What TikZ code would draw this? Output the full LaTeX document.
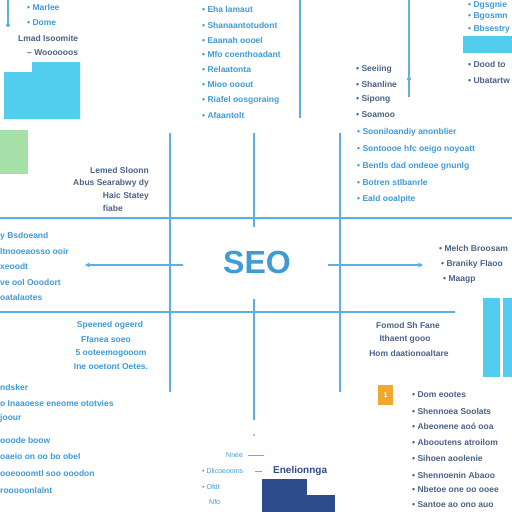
\documentclass[tikz,border=0pt]{standalone}
\usepackage{fontspec}
\setmainfont{Liberation Sans}
\usetikzlibrary{arrows.meta}
\definecolor{dk}{HTML}{4A6486}
\definecolor{bl}{HTML}{3F9BD6}
\definecolor{ln}{HTML}{5AB0E2}
\definecolor{cy}{HTML}{52CDEE}
\definecolor{gr}{HTML}{A6DFA8}
\definecolor{nv}{HTML}{2D4C8C}
\definecolor{og}{HTML}{F0A82E}
\tikzset{
  dktxt/.style={font=\bfseries\fontsize{8.5}{10}\selectfont, text=dk, inner sep=0pt},
  bltxt/.style={font=\bfseries\fontsize{8.5}{10}\selectfont, text=bl, inner sep=0pt},
  smtxt/.style={font=\fontsize{7}{8}\selectfont, text=bl, inner sep=0pt},
  gridline/.style={draw=ln, line width=1.1pt},
}
\begin{document}
\begin{tikzpicture}[x=1pt,y=-1pt]
\useasboundingbox (0,0) rectangle (512,512);
\fill[white] (0,0) rectangle (512,512);

% ---- top-left
\draw[gridline] (8,0) -- (8,25);
\fill[ln] (8,25) circle (2);
\node[bltxt, anchor=west] (tl1) at (27,7) {• Marlee};
\node[bltxt, anchor=west] (tl2) at (27,23) {• Dome};
\node[dktxt, anchor=west] (tl3) at (18,38) {Lmad Isoomite};
\node[dktxt, anchor=west] (tl4) at (27,53) {– Woooooos};
\fill[cy] (4,72) -- (32,72) -- (32,62) -- (80,62) -- (80,119) -- (4,119) -- cycle;

% ---- top-middle list
\foreach \y/\t [count=\i] in {9/Eha lamaut, 25/Shanaantotudont, 40/Eaanah oooel, 54/Mfo coenthoadant, 69/Relaatonta, 84/Mioo ooout, 100/Riafel oosgoraing, 115/Afaantolt}
  \node[bltxt, anchor=west] (tm\i) at (202,\y) {• \t};
\draw[gridline] (300,0) -- (300,118);

% ---- upper-right list
\foreach \y/\t [count=\i] in {69/Seeiing, 84/Shanline, 99/Sipong, 115/Soamoo}
  \node[dktxt, anchor=west] (ur\i) at (356,\y) {• \t};
\draw[gridline] (409,0) -- (409,97);
\fill[ln] (409,79) circle (2);

% ---- top-right
\node[bltxt, anchor=west] (tr1) at (468,5) {• Dgsgnie};
\node[bltxt, anchor=west] (tr2) at (468,16) {• Bgosmn};
\node[bltxt, anchor=west] (tr3) at (468,29) {• Bbsestry};
\fill[cy] (463,36) rectangle (512,53);
\node[dktxt, anchor=west] (tr4) at (468,64) {• Dood to};
\node[dktxt, anchor=west] (tr5) at (468,80) {• Ubatartw};

% ---- green block
\fill[gr] (0,130) rectangle (28,174);

% ---- left middle text
\node[dktxt, anchor=east] (lm1) at (149,170) {Lemed Sloonn};
\node[dktxt, anchor=east] (lm2) at (149,183) {Abus Searabwy dy};
\node[dktxt, anchor=east] (lm3) at (149,196) {Haic Statey};
\node[dktxt, anchor=east] (lm4) at (123,208) {fiabe};

% ---- right middle list
\foreach \y/\t [count=\i] in {132/Sooniloandiy anonblier, 149/Sontoooe hfc oeigo noyoatt, 166/Bentls dad ondeoe gnunlg, 182/Botren stlbanrle, 199/Eald ooalpite}
  \node[bltxt, anchor=west] (rm\i) at (357,\y) {• \t};

% ---- grid
\draw[gridline] (0,218) -- (512,218);
\draw[gridline] (0,312) -- (455,312);
\draw[gridline] (170,133) -- (170,392);
\draw[gridline] (340,133) -- (340,392);
\draw[gridline] (254,133) -- (254,227);
\draw[gridline] (254,299) -- (254,420);
\fill[ln] (254,435) circle (1);

% ---- center
\node[font=\bfseries\fontsize{32}{34}\selectfont, text=bl, inner sep=0pt] (seo) at (257,262) {SEO};
\coordinate (la) at (85,265);
\coordinate (ra) at (423,265);
\draw[gridline, -{Stealth[length=5pt,width=5pt]}] (183,265) -- (la);
\draw[gridline, -{Stealth[length=5pt,width=5pt]}] (328,265) -- (ra);

% ---- left list under line
\foreach \y/\t [count=\i] in {236/y Bsdoeand, 251/ltnooeaosso ooir, 266/xeoodt, 282/ve ool Ooodort, 297/oatalaotes}
  \node[bltxt, anchor=west] (ll\i) at (0,\y) {\t};

% ---- right arrow list
\node[dktxt, anchor=west] (ra1) at (439,248) {• Melch Broosam};
\node[dktxt, anchor=west] (ra2) at (441,264) {• Braniky Flaoo};
\node[dktxt, anchor=west] (ra3) at (443,279) {• Maagp};

% ---- lower left centred text
\node[bltxt] (lc1) at (110,325) {Speened ogeerd};
\node[bltxt] (lc2) at (106,339) {Ffanea soeo};
\node[bltxt] (lc3) at (111,353) {5 ooteemogooom};
\node[bltxt] (lc4) at (111,367) {Ine ooetont Oetes.};

% ---- lower right centred text
\node[dktxt] (rc1) at (408,325) {Fomod Sh Fane};
\node[dktxt] (rc2) at (405,339) {Ithaent gooo};
\node[dktxt] (rc3) at (409,353) {Hom daationoaltare};

% ---- right bars
\fill[cy] (483,298) rectangle (500,377);
\fill[cy] (503,298) rectangle (512,377);

% ---- bottom-left list
\foreach \y/\t [count=\i] in {387/ndsker, 403/o Inaaoese eneome ototvies, 418/joour, 440/ooode boow, 456/oaeio on oo bo obel, 473/ooeooomtl soo ooodon, 490/rooooonlalnt}
  \node[bltxt, anchor=west] (bl\i) at (0,\y) {\t};

% ---- bottom centre
\node[smtxt, anchor=west] (bc1) at (226,455) {Nnee};
\draw[draw=ln, line width=0.9pt] (248,455) -- (264,455);
\node[smtxt, anchor=west] (bc2) at (202,471) {• Dlicoeooms};
\draw[draw=ln, line width=0.9pt] (255,471) -- (262,471);
\node[smtxt, anchor=west] (bc3) at (202,487) {• Ofdt};
\node[smtxt, anchor=west] (bc4) at (209,502) {Nfo};
\node[font=\bfseries\fontsize{10}{12}\selectfont, text=nv, inner sep=0pt, anchor=west] (en) at (273,471) {Enelionnga};
\fill[nv] (262,479) rectangle (307,512);
\fill[nv] (262,495) rectangle (335,512);

% ---- orange + bottom-right list
\node[fill=og, text=white, font=\bfseries\fontsize{7}{8}\selectfont, minimum width=15pt, minimum height=20pt, inner sep=0pt] (num) at (385.5,395) {1};
\foreach \y/\t [count=\i] in {395/Dom eootes, 411/Shennoea Soolats, 426/Abeonene aoó ooa, 442/Abooutens atroilom, 458/Sihoen aoolenie, 475/Shennoenin Abaoo, 489/Nbetoe one oo ooee, 505/Santoe ao ono auo}
  \node[dktxt, anchor=west] (br\i) at (412,\y) {• \t};
\end{tikzpicture}
\end{document}
